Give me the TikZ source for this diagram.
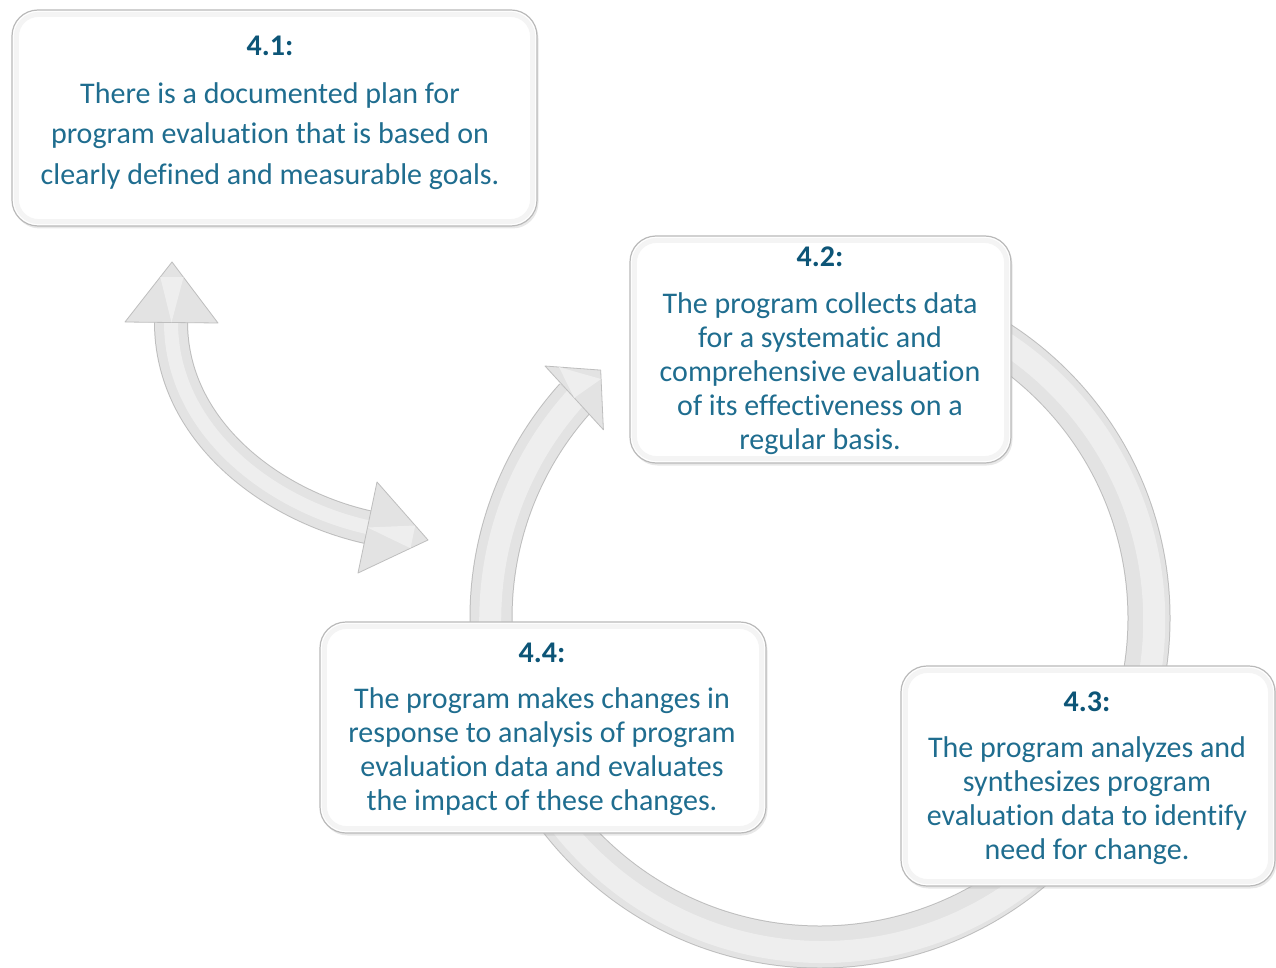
\documentclass[tikz,border=0pt]{standalone}
\usepackage{fontspec}
\setmainfont{Carlito}[Ligatures=NoCommon]
\usetikzlibrary{calc,shadows}
\definecolor{titlecol}{HTML}{0D5577}
\definecolor{textcol}{HTML}{1F6D8F}
\definecolor{arrowedge}{HTML}{BEBEBE}
\definecolor{arrowfill}{HTML}{E3E3E3}
\definecolor{arrowlight}{HTML}{EEEEEE}
\begin{document}
\begin{tikzpicture}[x=1pt,y=-1pt,
  panel/.style={draw=gray!55, line width=1.2pt, rounded corners=26pt, fill=white, inner sep=0pt,
    drop shadow={opacity=0.18, shadow xshift=1.5pt, shadow yshift=-2.5pt}},
  bevel/.style={draw=gray!9, line width=5pt, rounded corners=22pt},
  ttl/.style={font=\fontsize{30}{34}\selectfont\bfseries, text=titlecol, inner sep=0pt},
  txt/.style={font=\fontsize{30}{34}\selectfont, text=textcol, align=center, inner sep=0pt},
  bandout/.style={draw=arrowedge, line width=#1},
  bandin/.style={draw=arrowfill, line width=#1},
  bandhi/.style={draw=arrowlight, line width=#1},
  headtri/.style={fill=arrowfill, draw=arrowedge, line width=0.8pt, line join=round},
  facet/.style={fill=arrowlight}
]
\useasboundingbox (0,0) rectangle (1276,968);
\fill[white] (0,0) rectangle (1276,968);

% ---- cycle ring ----
\coordinate (c) at (820,618);
\coordinate (rs) at ($(c)+(-138:329)$);
\draw[bandout=43pt] (rs) arc[start angle=-138, end angle=-440, radius=329];
\draw[bandin=41pt] (rs) arc[start angle=-138, end angle=-440, radius=329];
\draw[bandhi=22pt] (rs) arc[start angle=-138, end angle=-440, radius=332];
\coordinate (rw1) at ($(c)+(-137.5:373)$);
\coordinate (rw2) at ($(c)+(-139:287)$);
\coordinate (rtip) at ($(c)+(-131.5:331)$);
\draw[headtri] (rw1) -- (rtip) -- (rw2) -- cycle;
\fill[facet] ($(rw1)!0.25!(rtip)$) -- ($(rtip)!0.15!(rw2)$) -- ($(rw2)!0.5!(rw1)$) -- cycle;

% ---- double arrow ----
\coordinate (da) at (171,306);
\coordinate (db) at (382,530);
\draw[bandout=34pt] (da) -- (171,322) .. controls (171,430) and (270,505) .. (367,527) -- (db);
\draw[bandin=32pt] (da) -- (171,322) .. controls (171,430) and (270,505) .. (367,527) -- (db);
\draw[bandhi=14pt] (da) -- (171,322) .. controls (171,430) and (270,505) .. (367,527) -- (db);
\coordinate (h1t) at (172,262);
\coordinate (h1a) at (125,322);
\coordinate (h1b) at (218,323);
\draw[headtri] (h1a) -- (h1t) -- (h1b) -- cycle;
\fill[facet] ($(h1t)!0.25!(h1a)$) -- ($(h1t)!0.25!(h1b)$) -- ($(h1a)!0.5!(h1b)$) -- cycle;
\coordinate (h2t) at (428,540);
\coordinate (h2a) at (377,482);
\coordinate (h2b) at (358,573);
\draw[headtri] (h2a) -- (h2t) -- (h2b) -- cycle;
\fill[facet] ($(h2t)!0.25!(h2a)$) -- ($(h2t)!0.25!(h2b)$) -- ($(h2a)!0.5!(h2b)$) -- cycle;

% ---- boxes ----
\node[panel, minimum width=525pt, minimum height=216pt] (b1) at (274.5,118) {};
\node[panel, minimum width=381pt, minimum height=227pt] (b2) at (820.5,349.5) {};
\node[panel, minimum width=374pt, minimum height=220pt] (b3) at (1088,776) {};
\node[panel, minimum width=446pt, minimum height=211pt] (b4) at (543,727.5) {};
\foreach \b in {b1,b2,b3,b4}{
  \draw[bevel] ([shift={(5,5)}]\b.north west) rectangle ([shift={(-5,-5)}]\b.south east);
}

% ---- texts ----
\node[ttl] (t1) at (270,46) {4.1:};
\node[txt, font=\fontsize{30}{40.5}\selectfont] (x1) at (270,136) {There is a documented plan for\\program evaluation that is based on\\clearly defined and measurable goals.};
\node[ttl] (t2) at (820,257) {4.2:};
\node[txt] (x2) at (820,373.5) {The program collects data\\for a systematic and\\comprehensive evaluation\\of its effectiveness on a\\regular basis.};
\node[ttl] (t3) at (1087,702) {4.3:};
\node[txt] (x3) at (1087,801) {The program analyzes and\\synthesizes program\\evaluation data to identify\\need for change.};
\node[ttl] (t4) at (542,653) {4.4:};
\node[txt] (x4) at (542,752) {The program makes changes in\\response to analysis of program\\evaluation data and evaluates\\the impact of these changes.};
\end{tikzpicture}
\end{document}
